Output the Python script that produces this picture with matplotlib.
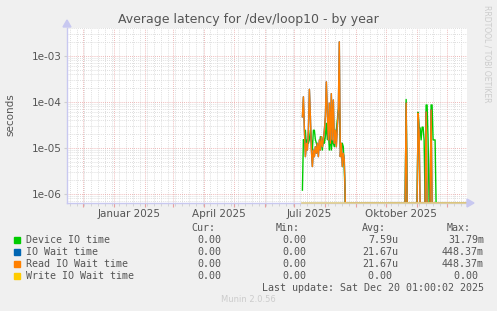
import matplotlib
matplotlib.use("Agg")
import matplotlib.pyplot as plt
import matplotlib.dates as mdates
import matplotlib.ticker as mticker
import numpy as np
import pandas as pd

# data (daily averages, seconds)
summer_start = "2025-07-09"
device_summer = [1.2e-6, 1.5e-5, 1.25e-5, 2.4e-5, 1.05e-5, 1.5e-5, 1.25e-5, 1.5e-5,
                 2.4e-5, 1.5e-5, 8.9e-6, 2.4e-5, 2.4e-5, 1.5e-5, 1.25e-5, 1.05e-5,
                 8.9e-6, 1.1e-5, 1.75e-5, 1.25e-5, 8.9e-6, 1.75e-5, 1.25e-5, 1.75e-5,
                 3.4e-5, 1.5e-5, 2.4e-5, 8.9e-6, 2.1e-5, 8.9e-6, 1.5e-5, 1.25e-5,
                 1.05e-5, 1.75e-5, 2.4e-5, 3.9e-5, 6.6e-5, 7.8e-5, 1.05e-5, 7.6e-6,
                 1.25e-5, 1.05e-5, 3.4e-6, 0]
read_summer = [4.7e-5, 1.28e-4, 2.4e-5, 6.4e-6, 1.25e-5, 8.9e-6, 2.4e-5, 1.86e-4,
               4.7e-5, 8.9e-6, 3.9e-6, 8.9e-6, 6.4e-6, 1.05e-5, 7.6e-6, 1.25e-5,
               6.4e-6, 1.48e-5, 8.9e-6, 1.74e-5, 1.05e-5, 1.48e-5, 2.4e-5, 4.7e-5,
               2.7e-4, 5.6e-5, 1.48e-5, 9.3e-5, 1.25e-5, 1.5e-4, 1.48e-5, 1.09e-4,
               1.25e-5, 2.4e-5, 1.05e-5, 2.9e-5, 6.6e-5, 2.0e-3, 6.4e-6, 1.25e-5,
               3.9e-6, 7.6e-6, 5.4e-6, 0]

autumn_start = "2025-10-21"
device_autumn = [1.12e-4, 0, 0, 0, 0, 0, 0, 0, 0, 0, 0, 0,
                 5.9e-5, 2.7e-5, 2.7e-5, 1.48e-5, 2.8e-5, 2.8e-5, 1.48e-5, 0,
                 8.5e-5, 8.5e-5, 1.48e-5, 0, 0, 8.5e-5, 8.5e-5, 1.48e-5, 1.48e-5,
                 1.48e-5, 0]
read_autumn = [9.3e-5, 0, 0, 0, 0, 0, 0, 0, 0, 0, 0, 0,
               5.6e-5, 2.0e-5, 0, 0, 0, 0, 0, 0,
               6.0e-5, 0, 0, 0, 0, 6.6e-5, 0, 0, 0, 0, 0]

data_start = "2025-07-09"
data_end = "2025-12-20"

series_names = ["Device IO time", "IO Wait time", "Read IO Wait time", "Write IO Wait time"]
series_colors = ["#00cc00", "#0066b3", "#ff8000", "#ffcc00"]
cur_vals = ["0.00", "0.00", "0.00", "0.00"]
min_vals = ["0.00", "0.00", "0.00", "0.00"]
avg_vals = ["7.59u", "21.67u", "21.67u", "0.00 "]
max_vals = ["31.79m", "448.37m", "448.37m", "0.00 "]

ytick_vals = [1e-6, 1e-5, 1e-4, 1e-3]
ytick_labels = ["1e-06", "1e-05", "1e-04", "1e-03"]
month_labels = ["Januar 2025", "April 2025", "Juli 2025", "Oktober 2025"]
month_label_dates = ["2025-01-16", "2025-04-16", "2025-07-16", "2025-10-16"]

# build full daily series (zeros where the device was idle)
days = pd.date_range(data_start, data_end, freq="D")
device = pd.Series(0.0, index=days)
read = pd.Series(0.0, index=days)
device[pd.date_range(summer_start, periods=len(device_summer))] = device_summer
read[pd.date_range(summer_start, periods=len(read_summer))] = read_summer
device[pd.date_range(autumn_start, periods=len(device_autumn))] = device_autumn
read[pd.date_range(autumn_start, periods=len(read_autumn))] = read_autumn
write = pd.Series(0.0, index=days)

ymin, ymax = 6.3e-7, 4.0e-3
xmin, xmax = pd.Timestamp("2024-11-15"), pd.Timestamp("2025-12-21")

fig = plt.figure(figsize=(4.97, 3.11), dpi=100, facecolor="#f0f0f0")
ax = fig.add_axes([67 / 497, 1 - 203 / 311, 400 / 497, 175 / 311])
ax.set_facecolor("white")

# rrdtool draws zero at the bottom of a log graph
for vals, col in zip([device, read, read, write], series_colors):
    y = vals.values.copy()
    y[y <= 0] = ymin
    ax.plot(vals.index, y, color=col, lw=1, zorder=3, clip_on=True)
# zero line of the write series along the bottom
ax.plot(days, np.full(len(days), ymin), color="#e0cf90", lw=1.2, zorder=4, clip_on=False)

ax.set_yscale("log")
ax.set_ylim(ymin, ymax)
ax.set_xlim(xmin, xmax)

# grid
ax.xaxis.set_major_locator(mdates.MonthLocator())
ax.xaxis.set_minor_locator(mdates.WeekdayLocator(byweekday=mdates.MO))
ax.yaxis.set_major_locator(mticker.FixedLocator(ytick_vals))
ax.yaxis.set_minor_locator(mticker.LogLocator(base=10, subs=np.arange(2, 10)))
ax.grid(which="minor", color="#d4d4d4", ls=(0, (1, 1.5)), lw=0.6, zorder=1)
ax.grid(which="major", color="#e8a0a0", ls=(0, (1, 1.5)), lw=0.6, zorder=2)
ax.xaxis.set_major_formatter(mticker.NullFormatter())
ax.yaxis.set_major_formatter(mticker.FixedFormatter(ytick_labels))
ax.yaxis.set_minor_formatter(mticker.NullFormatter())
ax.tick_params(axis="x", which="major", length=3, color="#e8a0a0", direction="out")
ax.tick_params(axis="x", which="minor", length=2, color="#cfcfcf", direction="out")
ax.tick_params(axis="y", which="major", length=2, color="#cfcfcf", labelsize=7.5,
               labelcolor="#555555", pad=2)
ax.tick_params(axis="y", which="minor", length=0)

for lbl, d in zip(month_labels, month_label_dates):
    ax.text(pd.Timestamp(d), -0.035, lbl, transform=ax.get_xaxis_transform(),
            ha="center", va="top", fontsize=7.5, color="#555555")

for s in ["top", "right"]:
    ax.spines[s].set_visible(False)
for s in ["left", "bottom"]:
    ax.spines[s].set_color("#c8c8f0")
    ax.spines[s].set_linewidth(1)

# axis arrows
fig.patches.append(plt.Polygon([[63 / 497, 1 - 27 / 311], [71 / 497, 1 - 27 / 311],
                                [67 / 497, 1 - 20 / 311]], closed=True,
                               transform=fig.transFigure, color="#c8c8f0"))
fig.patches.append(plt.Polygon([[467 / 497, 1 - 199 / 311], [467 / 497, 1 - 207 / 311],
                                [474 / 497, 1 - 203 / 311]], closed=True,
                               transform=fig.transFigure, color="#c8c8f0"))

fig.text(248 / 497, 1 - 19 / 311, "Average latency for /dev/loop10 - by year",
         ha="center", va="center", fontsize=9, color="#555555")
fig.text(10 / 497, 1 - 115 / 311, "seconds", rotation=90, ha="center", va="center",
         fontsize=7.5, color="#555555")
fig.text(487 / 497, 1 - 5 / 311, "RRDTOOL / TOBI OETIKER", rotation=270, ha="center",
         va="top", fontsize=5.5, color="#cccccc")

# legend table
mono = dict(family="DejaVu Sans Mono", fontsize=7.2, color="#555555", va="center")
H = 311
fig.text(191 / 497, 1 - 228 / H, "Cur:", **mono)
fig.text(276 / 497, 1 - 228 / H, "Min:", **mono)
fig.text(362 / 497, 1 - 228 / H, "Avg:", **mono)
fig.text(447 / 497, 1 - 228 / H, "Max:", **mono)
for i, name in enumerate(series_names):
    yy = 1 - (240 + 12 * i) / H
    fig.patches.append(plt.Rectangle((14 / 497, yy - 3 / H), 6 / 497, 6 / H,
                                     transform=fig.transFigure, color=series_colors[i]))
    fig.text(26 / 497, yy, name, **mono)
    fig.text(221 / 497, yy, cur_vals[i], ha="right", **mono)
    fig.text(306 / 497, yy, min_vals[i], ha="right", **mono)
    fig.text(398 / 497, yy, avg_vals[i], ha="right", **mono)
    fig.text(484 / 497, yy, max_vals[i], ha="right", **mono)
fig.text(484 / 497, 1 - 288 / H, "Last update: Sat Dec 20 01:00:02 2025", ha="right", **mono)
fig.text(248 / 497, 1 - 300 / H, "Munin 2.0.56", ha="center", va="center",
         fontsize=6, color="#cccccc")

fig.savefig("out.png", dpi=100, facecolor=fig.get_facecolor())
